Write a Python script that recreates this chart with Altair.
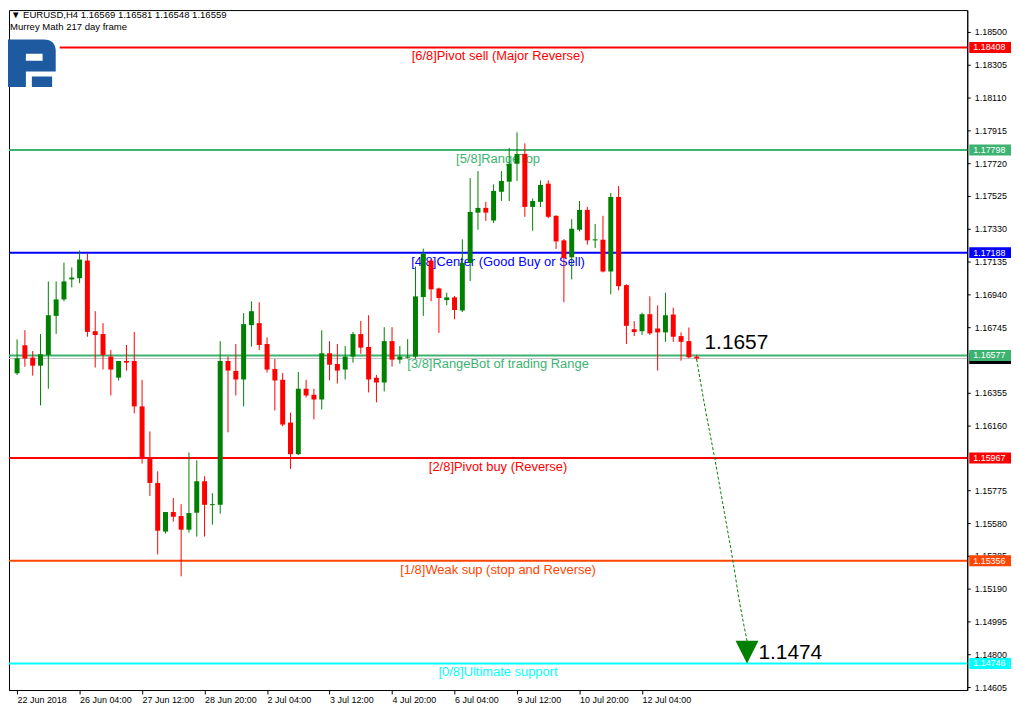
import json
import altair as alt
import pandas as pd

# ---------------- data ----------------
opens = [1.16471, 1.16637, 1.16564, 1.16516, 1.16580, 1.16812, 1.16910, 1.17029, 1.17036, 1.17141,
         1.16721, 1.16704, 1.16570, 1.16445, 1.16544, 1.16544, 1.16274, 1.15965, 1.15819, 1.15530,
         1.15646, 1.15622, 1.15541, 1.15642, 1.15829, 1.15687, 1.15689, 1.16544, 1.16485, 1.16434,
         1.16757, 1.16769, 1.16645, 1.16497, 1.16432, 1.16178, 1.15990, 1.16379, 1.16343, 1.16315,
         1.16590, 1.16526, 1.16493, 1.16570, 1.16704, 1.16627, 1.16444, 1.16416, 1.16662, 1.16552,
         1.16564, 1.16570, 1.16924, 1.17141, 1.16975, 1.16906, 1.16922, 1.16844, 1.17127, 1.17426,
         1.17454, 1.17379, 1.17550, 1.17610, 1.17716, 1.17775, 1.17460, 1.17490, 1.17598, 1.17407,
         1.17261, 1.17160, 1.17324, 1.17442, 1.17261, 1.17265, 1.17076, 1.17519, 1.16995, 1.16733,
         1.16721, 1.16822, 1.16737, 1.16714, 1.16820, 1.16692, 1.16662, 1.16569]
highs = [1.16672, 1.16727, 1.16603, 1.16704, 1.17017, 1.17017, 1.17129, 1.17100, 1.17200, 1.17184,
         1.16840, 1.16769, 1.16609, 1.16544, 1.16639, 1.16716, 1.16432, 1.16125, 1.15888, 1.15646,
         1.15729, 1.15693, 1.16000, 1.15953, 1.15859, 1.15758, 1.16662, 1.16570, 1.16645, 1.16828,
         1.16899, 1.16893, 1.16684, 1.16556, 1.16473, 1.16237, 1.16479, 1.16432, 1.16379, 1.16727,
         1.16662, 1.16645, 1.16633, 1.16717, 1.16782, 1.16816, 1.16461, 1.16745, 1.16745, 1.16633,
         1.16674, 1.17105, 1.17212, 1.17150, 1.16980, 1.16950, 1.16930, 1.17267, 1.17631, 1.17673,
         1.17490, 1.17594, 1.17673, 1.17810, 1.17903, 1.17838, 1.17510, 1.17618, 1.17618, 1.17410,
         1.17269, 1.17387, 1.17495, 1.17460, 1.17358, 1.17407, 1.17543, 1.17584, 1.17000, 1.16781,
         1.16832, 1.16928, 1.16875, 1.16950, 1.16861, 1.16714, 1.16743, 1.16581]
lows = [1.16461, 1.16510, 1.16457, 1.16280, 1.16379, 1.16705, 1.16899, 1.16981, 1.17007, 1.16688,
        1.16505, 1.16493, 1.16339, 1.16428, 1.16487, 1.16233, 1.15934, 1.15742, 1.15394, 1.15518,
        1.15589, 1.15264, 1.15524, 1.15500, 1.15500, 1.15571, 1.15636, 1.16120, 1.16339, 1.16274,
        1.16629, 1.16609, 1.16475, 1.16250, 1.16156, 1.15902, 1.15985, 1.16327, 1.16197, 1.16256,
        1.16428, 1.16410, 1.16434, 1.16534, 1.16587, 1.16357, 1.16298, 1.16363, 1.16510, 1.16528,
        1.16558, 1.16558, 1.16812, 1.16899, 1.16711, 1.16875, 1.16792, 1.16835, 1.17019, 1.17324,
        1.17377, 1.17364, 1.17495, 1.17495, 1.17614, 1.17401, 1.17318, 1.17460, 1.17393, 1.17210,
        1.16893, 1.17029, 1.17314, 1.17235, 1.17216, 1.17070, 1.16940, 1.16964, 1.16645, 1.16692,
        1.16698, 1.16698, 1.16487, 1.16658, 1.16658, 1.16546, 1.16560, 1.16548]
closes = [1.16560, 1.16558, 1.16516, 1.16584, 1.16816, 1.16910, 1.17017, 1.17040, 1.17147, 1.16717,
          1.16698, 1.16580, 1.16493, 1.16544, 1.16534, 1.16274, 1.15965, 1.15819, 1.15535, 1.15646,
          1.15618, 1.15541, 1.15640, 1.15829, 1.15689, 1.15693, 1.16544, 1.16487, 1.16434, 1.16763,
          1.16840, 1.16639, 1.16493, 1.16428, 1.16166, 1.15990, 1.16379, 1.16339, 1.16315, 1.16590,
          1.16522, 1.16487, 1.16570, 1.16704, 1.16623, 1.16434, 1.16416, 1.16662, 1.16552, 1.16570,
          1.16570, 1.16928, 1.17181, 1.16970, 1.16918, 1.16922, 1.16847, 1.17127, 1.17430, 1.17454,
          1.17426, 1.17555, 1.17614, 1.17716, 1.17775, 1.17460, 1.17495, 1.17590, 1.17401, 1.17255,
          1.17157, 1.17330, 1.17442, 1.17261, 1.17267, 1.17076, 1.17519, 1.16989, 1.16753, 1.16716,
          1.16822, 1.16708, 1.16714, 1.16816, 1.16688, 1.16658, 1.16566, 1.16559]

tick_pos = [0, 8, 16, 24, 32, 40, 48, 56, 64, 72, 80]
tick_labels = ["22 Jun 2018", "26 Jun 04:00", "27 Jun 12:00", "28 Jun 20:00", "2 Jul 04:00",
               "3 Jul 12:00", "4 Jul 20:00", "6 Jul 04:00", "9 Jul 12:00", "10 Jul 20:00",
               "12 Jul 04:00"]
# tick labels that stay visible (the ones under the price boxes are covered in the reference)
y_ticks = [1.18500, 1.18305, 1.18110, 1.17915, 1.17720, 1.17525, 1.17330, 1.17135, 1.16940,
           1.16745, 1.16355, 1.16160, 1.15775, 1.15580, 1.15385, 1.15190,
           1.14995, 1.14800, 1.14605]

level_prices = [1.18408, 1.17798, 1.17188, 1.16577, 1.15967, 1.15356, 1.14746]
level_names = ["[6/8]Pivot sell (Major Reverse)", "[5/8]RangeTop", "[4/8]Center (Good Buy or Sell)",
               "[3/8]RangeBot of trading Range", "[2/8]Pivot buy (Reverse)",
               "[1/8]Weak sup (stop and Reverse)", "[0/8]Ultimate support"]
level_colors = ["#ff0000", "#3cb371", "#0000ff", "#3cb371", "#ff0000", "#ff4500", "#00ffff"]

current_price = 1.16559

# forecast arrow path (bar index, price)
arrow_i = [87.0, 88.04, 89.29, 90.54, 91.66, 92.41, 93.46]
arrow_p = [1.16554, 1.16274, 1.15969, 1.15644, 1.15349, 1.15132, 1.14876]
arrow_head_i = [93.44]
arrow_head_p = [1.14813]

big_labels = ["1.1657", "1.1474"]
big_i = [88.0, 94.9]
big_p = [1.16650, 1.14807]

symbol = "EURUSD,H4"
subtitle = "Murrey Math 217 day frame"

# ---------------- chart ----------------
W, H = 964, 684
FONT = "Liberation Sans"
xs = alt.Scale(domain=[-0.4, 121], nice=False, zero=False)
ys = alt.Scale(domain=[1.14588, 1.18630], nice=False, zero=False)

label_expr = json.dumps(tick_labels) + "[round(datum.value/8)]"
xax = alt.Axis(values=tick_pos, labelExpr=label_expr, title=None, grid=False, tickSize=4,
               labelAlign="left", labelPadding=2, labelFontSize=9, labelFont=FONT,
               labelColor="black", tickColor="black", domainColor="black",
               labelFlush=False, labelOverlap=False)
yax = alt.Axis(orient="right", values=y_ticks, format=".5f", title=None, grid=False, tickSize=3,
               labelPadding=4, labelFontSize=9, labelFont=FONT, labelColor="black",
               tickColor="black", domainColor="black", labelFlush=False, labelOverlap=False)


def X(f):
    return alt.X(f, type="quantitative", scale=xs, axis=xax)


def Y(f):
    return alt.Y(f, type="quantitative", scale=ys, axis=yax)


n = len(opens)
df = pd.DataFrame({
    "i": list(range(n)), "open": opens, "high": highs, "low": lows, "close": closes,
})
df["dir"] = ["up" if c >= o else "down" for o, c in zip(opens, closes)]
cscale = alt.Scale(domain=["up", "down"], range=["#008000", "#ff0000"])

lv = pd.DataFrame({"price": level_prices, "name": level_names, "color": level_colors})
lv["label"] = [f"{p:.5f}" for p in level_prices]

cur = pd.DataFrame({"price": [current_price], "label": [f"{current_price:.5f}"]})

level_lines = alt.Chart(lv).mark_rule(strokeWidth=2).encode(
    y=Y("price"), color=alt.Color("color:N", scale=None))
cur_line = alt.Chart(cur).mark_rule(strokeWidth=1, color="#c0c0c0").encode(y=Y("price"))

level_text = alt.Chart(lv).mark_text(align="center", baseline="middle", dy=9, fontSize=13,
                                     font=FONT).encode(
    x=alt.value(492), y=Y("price"), text="name:N", color=alt.Color("color:N", scale=None))

wicks = alt.Chart(df).mark_rule(strokeWidth=1).encode(
    x=X("i"), y=Y("low"), y2="high", color=alt.Color("dir:N", scale=cscale, legend=None))
bodies = alt.Chart(df).mark_bar(size=5).encode(
    x=X("i"), y=Y("open"), y2="close", color=alt.Color("dir:N", scale=cscale, legend=None))

arrow_df = pd.DataFrame({"i": arrow_i, "p": arrow_p, "o": list(range(len(arrow_i)))})
arrow = alt.Chart(arrow_df).mark_line(strokeDash=[3, 2], strokeWidth=1, color="#008000",
                                      interpolate="monotone").encode(
    x=X("i"), y=Y("p"), order="o:Q")
head = alt.Chart(pd.DataFrame({"i": arrow_head_i, "p": arrow_head_p})).mark_point(
    shape="M-1,-1L1,-1L0,1Z", size=529, filled=True, opacity=1, color="#008000",
    strokeWidth=0).encode(x=X("i"), y=Y("p"))

big = alt.Chart(pd.DataFrame({"i": big_i, "p": big_p, "t": big_labels})).mark_text(
    align="left", baseline="middle", fontSize=21, font=FONT, color="black").encode(
    x=X("i"), y=Y("p"), text="t:N")

BOX = "M-1,-0.262L1,-0.262L1,0.262L-1,0.262Z"
cur_box = alt.Chart(cur).mark_point(shape=BOX, size=1764, filled=True, opacity=1,
                                    color="black", strokeWidth=0).encode(
    x=alt.value(W + 23), y=Y("price"))
lv_box = alt.Chart(lv).mark_point(shape=BOX, size=1764, filled=True, opacity=1,
                                  strokeWidth=0).encode(
    x=alt.value(W + 23), y=Y("price"), color=alt.Color("color:N", scale=None))
lv_box_t = alt.Chart(lv).mark_text(align="left", baseline="middle", fontSize=9, font=FONT,
                                   color="white").encode(
    x=alt.value(W + 6), y=Y("price"), text="label:N")

title_str = "\u25BC  " + symbol + "  " + " ".join(
    f"{v:.5f}" for v in [opens[-1], highs[-1], lows[-1], closes[-1]])
title1 = alt.Chart(pd.DataFrame({"t": [title_str]})).mark_text(
    align="left", baseline="middle", fontSize=9.6, font=FONT, color="black").encode(
    x=alt.value(2), y=alt.value(5), text="t:N")
title2 = alt.Chart(pd.DataFrame({"t": [subtitle]})).mark_text(
    align="left", baseline="middle", fontSize=9.6, font=FONT, color="black").encode(
    x=alt.value(1), y=alt.value(17), text="t:N")

# broker logo (a stylised "R" drawn as a filled shape)
LOGO = ("M-1,-1L0.5,-1Q1,-1 1,-0.5L1,0.35L-0.25,0.35L-0.25,1L-1,1Z"
        "M-0.25,-0.4L-0.25,-0.1L0.45,-0.1L0.45,-0.4Z"
        "M0,0.55L0.85,0.55L0.85,1L0,1Z")
one = pd.DataFrame({"k": [0]})
logo_bg = alt.Chart(one).mark_point(
    shape="square", size=2500, filled=True, opacity=1, color="white", strokeWidth=0).encode(
    x=alt.value(26), y=alt.value(53.5))
logo = alt.Chart(one).mark_point(
    shape=LOGO, size=2304, filled=True, opacity=1, color="#1d5aa0", strokeWidth=0).encode(
    x=alt.value(23), y=alt.value(53.5))

chart = alt.layer(
    level_lines, cur_line, logo_bg, logo, level_text, wicks, bodies, arrow, head, big,
    cur_box, lv_box, lv_box_t, title1, title2,
).properties(width=W, height=H, padding=0, background="white").configure_view(
    stroke="black", strokeWidth=1)

chart.save("out.html", embed_options={"renderer": "svg", "actions": False})
